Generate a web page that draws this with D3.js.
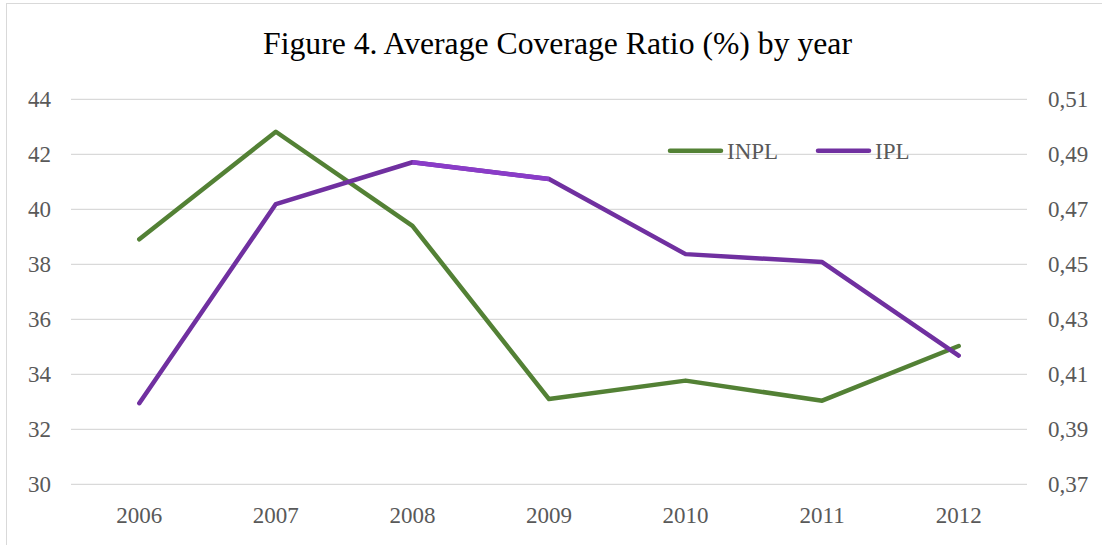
<!DOCTYPE html>
<html>
<head>
<meta charset="utf-8">
<script src="https://cdn.jsdelivr.net/npm/d3@7"></script>
<style>
  html, body { margin: 0; padding: 0; background: #fff; }
  svg { display: block; }
  text { font-family: "Liberation Serif", "Times New Roman", serif; }
</style>
</head>
<body>
<svg id="chart" width="1102" height="545"></svg>
<script>
// Years on the category axis
const years = ["2006", "2007", "2008", "2009", "2010", "2011", "2012"];
// INPL average coverage ratio, left axis (%)
const inpl = [38.91, 42.82, 39.40, 33.10, 33.77, 33.04, 35.03];
// IPL average coverage ratio, right axis
const ipl = [0.3995, 0.4719, 0.4871, 0.4810, 0.4537, 0.4508, 0.4168];
// Tick labels
const leftTicks = [30, 32, 34, 36, 38, 40, 42, 44];
const rightTicks = [0.37, 0.39, 0.41, 0.43, 0.45, 0.47, 0.49, 0.51];

const svg = d3.select("#chart");
const W = 1102, H = 545;
const plot = { left: 71, right: 1027, top: 99.3, bottom: 484.3 };

// Outer frame
svg.append("rect")
  .attr("x", 6.5).attr("y", 3.5)
  .attr("width", W + 10).attr("height", H + 10)
  .attr("fill", "#fff").attr("stroke", "#d9d9d9").attr("stroke-width", 1);

// Title
svg.append("text")
  .attr("x", 557.5).attr("y", 53.5)
  .attr("text-anchor", "middle")
  .attr("font-size", 31.7)
  .attr("fill", "#000")
  .text("Figure 4. Average Coverage Ratio (%) by year");

const x = d3.scaleBand().domain(years).range([plot.left, plot.right]).padding(0);
const yL = d3.scaleLinear().domain([30, 44]).range([plot.bottom, plot.top]);
const yR = d3.scaleLinear().domain([0.37, 0.51]).range([plot.bottom, plot.top]);
const cx = d => x(d) + x.bandwidth() / 2;

// Gridlines
svg.append("g").selectAll("line").data(leftTicks).join("line")
  .attr("x1", plot.left).attr("x2", plot.right)
  .attr("y1", d => yL(d)).attr("y2", d => yL(d))
  .attr("stroke", "#d9d9d9").attr("stroke-width", 1.3);

// Left axis
const leftAxis = d3.axisLeft(yL).tickValues(leftTicks).tickSize(0).tickPadding(20)
  .tickFormat(d3.format("d"));
svg.append("g").attr("transform", `translate(${plot.left},0)`).call(leftAxis)
  .call(g => g.select(".domain").remove())
  .call(g => g.selectAll("text").attr("font-size", 23).attr("fill", "#595959"));

// Right axis (decimal comma)
const rightAxis = d3.axisRight(yR).tickValues(rightTicks).tickSize(0).tickPadding(21)
  .tickFormat(d => d3.format(".2f")(d).replace(".", ","));
svg.append("g").attr("transform", `translate(${plot.right},0)`).call(rightAxis)
  .call(g => g.select(".domain").remove())
  .call(g => g.selectAll("text").attr("font-size", 23).attr("fill", "#595959"));

// Category axis
const bottomAxis = d3.axisBottom(x).tickSize(0).tickPadding(22);
svg.append("g").attr("transform", `translate(0,${plot.bottom})`).call(bottomAxis)
  .call(g => g.select(".domain").remove())
  .call(g => g.selectAll("text").attr("font-size", 23).attr("fill", "#595959"));

// Series lines
const greenColor = "#538135";
const purpleColor = "#7030a0";

const lineL = d3.line().x((d, i) => cx(years[i])).y(d => yL(d));
const lineR = d3.line().x((d, i) => cx(years[i])).y(d => yR(d));

svg.append("path").datum(inpl)
  .attr("d", lineL).attr("fill", "none")
  .attr("stroke", greenColor).attr("stroke-width", 4.5)
  .attr("stroke-linejoin", "round").attr("stroke-linecap", "round");

svg.append("path").datum(ipl)
  .attr("d", lineR).attr("fill", "none")
  .attr("stroke", purpleColor).attr("stroke-width", 4.5)
  .attr("stroke-linejoin", "round").attr("stroke-linecap", "round");

// Lighter purple on the 2008–2009 stretch
svg.append("line")
  .attr("x1", cx(years[2])).attr("y1", yR(ipl[2]))
  .attr("x2", cx(years[3])).attr("y2", yR(ipl[3]))
  .attr("stroke", "#8a3cc8").attr("stroke-width", 4.5);

// Legend
const legendItems = [
  { name: "INPL", color: greenColor, x: 668 },
  { name: "IPL", color: purpleColor, x: 816 }
];
const lg = svg.append("g");
legendItems.forEach(it => {
  lg.append("line")
    .attr("x1", it.x + 2).attr("x2", it.x + 53)
    .attr("y1", 150.7).attr("y2", 150.7)
    .attr("stroke", it.color).attr("stroke-width", 4.5)
    .attr("stroke-linecap", "round");
  lg.append("text")
    .attr("x", it.x + 59).attr("y", 159)
    .attr("font-size", 23).attr("fill", "#595959")
    .text(it.name);
});
</script>
</body>
</html>
